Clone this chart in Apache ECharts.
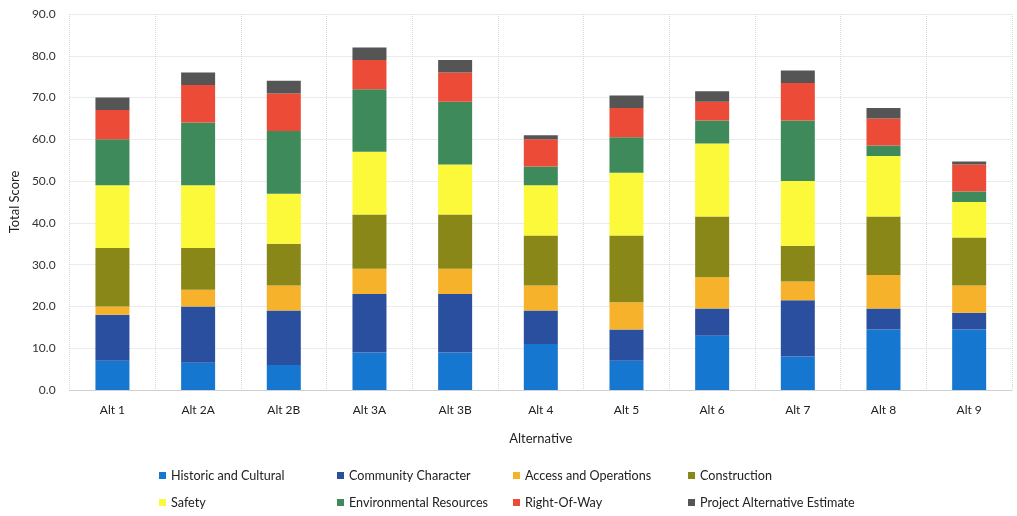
<!DOCTYPE html>
<html>
<head>
<meta charset="utf-8">
<script src="https://cdn.jsdelivr.net/npm/echarts@6/dist/echarts.min.js"></script>
<style>
  html, body { margin: 0; padding: 0; background: #fff; }
  #chart { width: 1017px; height: 516px; }
</style>
</head>
<body>
<div id="chart"></div>
<script>
// categories and stacked values, bottom to top
const alternatives = ['Alt 1', 'Alt 2A', 'Alt 2B', 'Alt 3A', 'Alt 3B', 'Alt 4', 'Alt 5', 'Alt 6', 'Alt 7', 'Alt 8', 'Alt 9']
const historic = [7, 6.5, 6, 9, 9, 11, 7, 13, 8, 14.5, 14.5]
const community = [11, 13.5, 13, 14, 14, 8, 7.5, 6.5, 13.5, 5, 4]
const access = [2, 4, 6, 6, 6, 6, 6.5, 7.5, 4.5, 8, 6.5]
const construction = [14, 10, 10, 13, 13, 12, 16, 14.5, 8.5, 14, 11.5]
const safety = [15, 15, 12, 15, 12, 12, 15, 17.5, 15.5, 14.5, 8.5]
const environmental = [11, 15, 15, 15, 15, 4.5, 8.5, 5.5, 14.5, 2.5, 2.5]
const rightOfWay = [7, 9, 9, 7, 7, 6.5, 7, 4.5, 9, 6.5, 6.5]
const estimate = [3, 3, 3, 3, 3, 1, 3, 2.5, 3, 2.5, 0.7]
const yTicks = [0, 90, 10]

const font = 'Lato, "Open Sans", sans-serif'

const seriesList = [
    { name: 'Historic and Cultural', data: historic, color: '#1677d0' },
    { name: 'Community Character', data: community, color: '#2b4f9f' },
    { name: 'Access and Operations', data: access, color: '#f6b22a' },
    { name: 'Construction', data: construction, color: '#8a8719' },
    { name: 'Safety', data: safety, color: '#fcf83a' },
    { name: 'Environmental Resources', data: environmental, color: '#3f8a5b' },
    { name: 'Right-Of-Way', data: rightOfWay, color: '#ec4b38' },
    { name: 'Project Alternative Estimate', data: estimate, color: '#555555' }
]

// legend: 4 columns x 2 rows, one legend block per entry
const legendCols = [159, 337, 513, 688]
const legendRows = [469, 496]

const options = {
    backgroundColor: '#fff',
    animation: false,
    grid: {
        left: 69,
        right: 5,
        top: 14,
        bottom: 126
    },
    legend: seriesList.map((s, i) => ({
        data: [s.name],
        left: legendCols[i % 4],
        top: legendRows[Math.floor(i / 4)],
        padding: 0,
        itemWidth: 7,
        itemHeight: 7,
        icon: 'rect',
        textStyle: {
            fontFamily: font,
            fontSize: 12.6,
            color: '#222'
        }
    })),
    xAxis: {
        type: 'category',
        data: alternatives,
        name: 'Alternative',
        nameLocation: 'middle',
        nameGap: 42,
        nameTextStyle: { fontFamily: font, fontSize: 13, color: '#222' },
        axisLine: { lineStyle: { color: '#d0d0d0' } },
        axisTick: { show: false },
        axisLabel: { fontFamily: font, fontSize: 12, color: '#222', margin: 14 },
        splitLine: {
            show: true,
            lineStyle: { color: '#d8d8d8', type: 'dotted' }
        }
    },
    yAxis: {
        type: 'value',
        min: yTicks[0],
        max: yTicks[1],
        interval: yTicks[2],
        name: 'Total Score',
        nameLocation: 'middle',
        nameGap: 44,
        nameTextStyle: { fontFamily: font, fontSize: 13, color: '#222' },
        axisLine: { show: false },
        axisTick: { show: false },
        axisLabel: {
            fontFamily: font,
            fontSize: 12,
            color: '#333',
            margin: 14,
            formatter: v => v.toFixed(1)
        },
        splitLine: {
            lineStyle: { color: '#d8d8d8', type: 'dotted' }
        }
    },
    series: seriesList.map(s => ({
        name: s.name,
        type: 'bar',
        stack: 'total',
        barWidth: 34,
        data: s.data,
        itemStyle: { color: s.color },
        emphasis: { disabled: true }
    }))
}

let chart = echarts.init(document.getElementById('chart'))
chart.setOption(options, true)
</script>
</body>
</html>
